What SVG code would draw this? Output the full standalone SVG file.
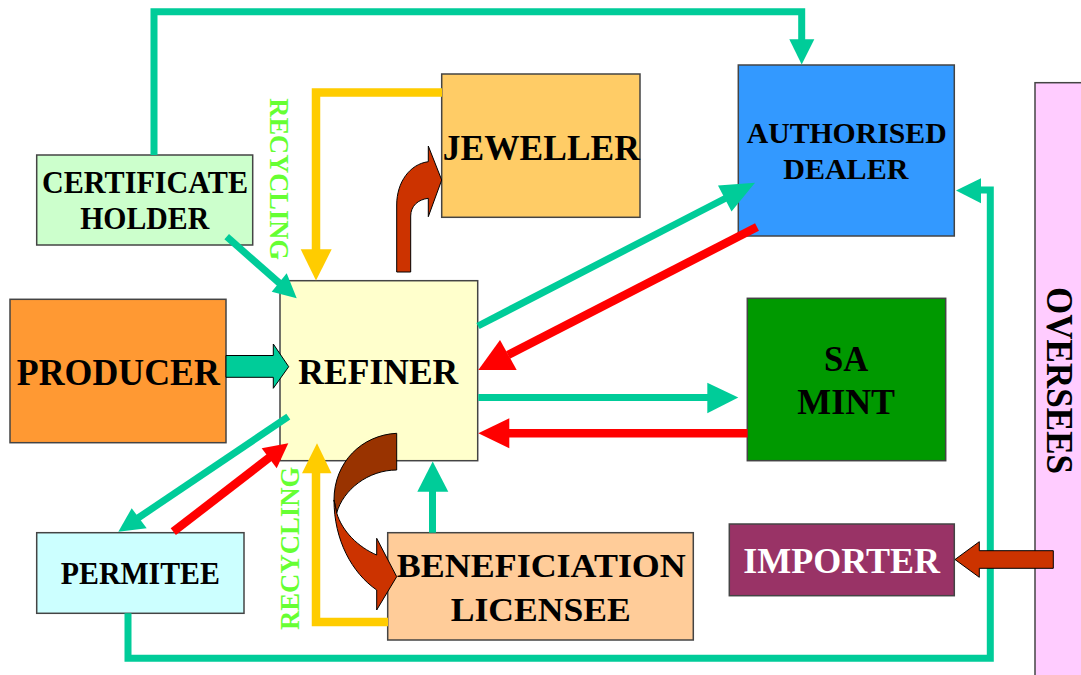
<svg xmlns="http://www.w3.org/2000/svg" width="1081" height="675" viewBox="0 0 1081 675">
<style>
.box{stroke:#444;stroke-width:1.5}
.lbl{font-family:"Liberation Serif","Times New Roman",serif;font-weight:bold;text-anchor:middle;fill:#000}
.rec{font-family:"Liberation Serif","Times New Roman",serif;font-weight:bold;fill:#66FF33;font-size:26.5px}
.teal{fill:none;stroke:#00CC99;stroke-width:7}
.tealh{fill:#00CC99}
.red{fill:none;stroke:#FF0000;stroke-width:8.5}
.redh{fill:#FF0000}
.yel{fill:none;stroke:#FFCC00;stroke-width:8.5}
.yelh{fill:#FFCC00}
.blk{stroke:#000;stroke-width:1}
</style>
<rect width="1081" height="675" fill="#fff"/>

<g id="oversees">
<rect x="1035" y="82.7" width="60" height="610" fill="#FFCCFF" class="box"/>
<text class="lbl" transform="translate(1047,287) rotate(90)" x="0" y="0" style="text-anchor:start;font-size:38px" textLength="187" lengthAdjust="spacingAndGlyphs">OVERSEES</text>
</g>

<g id="certificate-holder">
<rect x="36.7" y="155" width="216" height="90" fill="#CCFFCC" class="box"/>
<text class="lbl" x="145" y="193" font-size="31" textLength="206" lengthAdjust="spacingAndGlyphs">CERTIFICATE</text>
<text class="lbl" x="144.7" y="229" font-size="31" textLength="129" lengthAdjust="spacingAndGlyphs">HOLDER</text>
</g>

<g id="producer">
<rect x="10" y="299.3" width="216" height="143.4" fill="#FF9933" class="box"/>
<text class="lbl" x="118.3" y="385" font-size="37" textLength="203" lengthAdjust="spacingAndGlyphs">PRODUCER</text>
</g>

<g id="refiner">
<rect x="280" y="280.7" width="197.7" height="180" fill="#FFFFCC" class="box"/>
<text class="lbl" x="378.3" y="384" font-size="36" textLength="160" lengthAdjust="spacingAndGlyphs">REFINER</text>
</g>

<g id="jeweller">
<rect x="441.7" y="74" width="198.3" height="143.3" fill="#FFCC66" class="box"/>
<text class="lbl" x="541.3" y="160" font-size="36" textLength="197" lengthAdjust="spacingAndGlyphs">JEWELLER</text>
</g>

<g id="authorised-dealer">
<rect x="738.3" y="65" width="216" height="171" fill="#3399FF" class="box"/>
<text class="lbl" x="846.7" y="143.3" font-size="30" textLength="200" lengthAdjust="spacingAndGlyphs">AUTHORISED</text>
<text class="lbl" x="845.8" y="179.3" font-size="30" textLength="125" lengthAdjust="spacingAndGlyphs">DEALER</text>
</g>

<g id="sa-mint">
<rect x="747.3" y="298.3" width="198.4" height="162.4" fill="#009900" class="box"/>
<text class="lbl" x="846.2" y="370.7" font-size="36" textLength="44.3" lengthAdjust="spacingAndGlyphs">SA</text>
<text class="lbl" x="846.2" y="414" font-size="36" textLength="97.7" lengthAdjust="spacingAndGlyphs">MINT</text>
</g>

<g id="permitee">
<rect x="36.7" y="532.7" width="207.3" height="80.6" fill="#CCFFFF" class="box"/>
<text class="lbl" x="140.3" y="584" font-size="31" textLength="159" lengthAdjust="spacingAndGlyphs">PERMITEE</text>
</g>

<g id="beneficiation-licensee">
<rect x="387.7" y="532.7" width="305.6" height="107.3" fill="#FFCC99" class="box"/>
<text class="lbl" x="541.3" y="576.7" font-size="34" textLength="289" lengthAdjust="spacingAndGlyphs">BENEFICIATION</text>
<text class="lbl" x="540.7" y="620.7" font-size="34" textLength="180" lengthAdjust="spacingAndGlyphs">LICENSEE</text>
</g>

<g id="importer">
<rect x="729.3" y="524" width="225" height="71.7" fill="#993366" class="box"/>
<text class="lbl" x="841.7" y="572.7" font-size="36" style="fill:#fff" textLength="196.7" lengthAdjust="spacingAndGlyphs">IMPORTER</text>
</g>

<g id="connectors">
<!-- certificate holder to authorised dealer -->
<polyline class="teal" points="154,155 154,11.7 801.7,11.7 801.7,42"/>
<polygon class="tealh" points="789.3,39.3 814.3,39.3 801.7,64.5"/>
<!-- certificate holder to refiner -->
<line class="teal" x1="226.7" y1="236.7" x2="285" y2="288"/>
<polygon class="tealh" points="296.7,298.3 271.7,291.7 286.7,273.3"/>
<!-- producer to refiner block arrow -->
<polygon class="tealh blk" points="226,355.5 273.3,355.5 273.3,344 288.7,366.7 273.3,388.3 273.3,377.3 226,377.3"/>
<!-- refiner to authorised dealer -->
<line class="teal" x1="478" y1="326" x2="728" y2="197"/>
<polygon class="tealh" points="755,182.7 718,185.5 731.5,211.5"/>
<!-- authorised dealer to refiner -->
<line class="red" x1="757" y1="227" x2="508" y2="355"/>
<polygon class="redh" points="478.3,370 500,340 516.7,370"/>
<!-- refiner to SA mint -->
<line class="teal" x1="478.3" y1="397.5" x2="710" y2="397.5"/>
<polygon class="tealh" points="707.3,382.7 738.3,397.5 707.3,413.3"/>
<!-- SA mint to refiner -->
<line class="red" x1="747.5" y1="433.3" x2="506" y2="433.3"/>
<polygon class="redh" points="478.3,433.3 509.3,418.3 509.3,448.3"/>
<!-- refiner to permitee -->
<line class="teal" x1="288.3" y1="416.7" x2="138" y2="518"/>
<polygon class="tealh" points="118.3,531.7 131.7,508.3 146.7,528.3"/>
<!-- permitee to refiner -->
<line class="red" x1="173.3" y1="531.7" x2="270" y2="457"/>
<polygon class="redh" points="288.3,443.3 261.7,448.3 276.7,468.3"/>
<!-- jeweller recycling to refiner -->
<polyline class="yel" points="442,92.5 316,92.5 316,252"/>
<polygon class="yelh" points="300.7,249.3 331.7,249.3 316,280.5"/>
<!-- beneficiation recycling to refiner -->
<polyline class="yel" points="388,622 316,622 316,470"/>
<polygon class="yelh" points="302,473.3 331.5,473.3 317,443.3"/>
<!-- beneficiation to refiner -->
<line class="teal" x1="432.5" y1="532.7" x2="432.5" y2="488"/>
<polygon class="tealh" points="417.3,491.7 448.3,491.7 432.7,461.5"/>
<!-- permitee loop to authorised dealer -->
<polyline class="teal" points="128,613.3 128,658.3 990.3,658.3 990.3,190 978,190"/>
<polygon class="tealh" points="956,190.5 981,178.3 981,203.3"/>
<!-- oversees to importer -->
<polygon fill="#CC3300" class="blk" points="1053.3,550.7 979.3,550.7 979.3,541.7 955,559.5 979.3,577.3 979.3,568.3 1053.3,568.3"/>
<!-- refiner to jeweller curved arrow -->
<path fill="#CC3300" class="blk" d="M396.7,272 L396.7,205 C396.7,182 410,164 428.3,161.7 L428.3,146 L441.7,180 L428.3,216.7 L428.3,198.3 C418,199.5 410.7,206 410.7,216 L410.7,272 Z"/>
<!-- refiner to beneficiation curved arrow -->
<path fill="#993300" class="blk" d="M396.7,433.3 C362,435 334,462 334,500 L336.7,513 C343,490 368,470 396.7,470 Z"/>
<path fill="#CC3300" class="blk" d="M334,500 C334,540 352,573 376.7,590 L376.7,610 L396.7,576.7 L376.7,538.3 L376.7,555 C358,547 342,531 336.7,513 Z"/>
<!-- recycling labels -->
<text class="rec" transform="translate(270,98.3) rotate(90)" textLength="161.7" lengthAdjust="spacingAndGlyphs">RECYCLING</text>
<text class="rec" transform="translate(299.3,630) rotate(-90)" textLength="163.3" lengthAdjust="spacingAndGlyphs">RECYCLING</text>
</g>
</svg>
